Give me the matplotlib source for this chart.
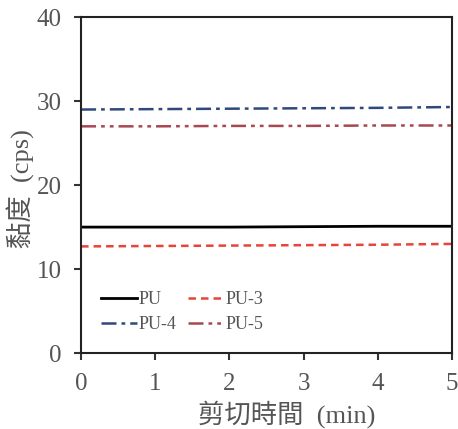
import matplotlib.pyplot as plt

plt.rcParams['font.family'] = ['Liberation Serif', 'Noto Sans CJK TC']

# datos
tiempo = [0, 1, 2, 3, 4, 5]
pu = [15.0, 15.0, 15.0, 15.05, 15.1, 15.1]
pu3 = [12.7, 12.75, 12.8, 12.85, 12.9, 13.0]
pu4 = [29.0, 29.05, 29.1, 29.15, 29.2, 29.3]
pu5 = [27.0, 27.0, 27.05, 27.05, 27.1, 27.1]

fig = plt.figure(figsize=(4.58, 4.29), dpi=100)
ax = fig.add_axes([0.177, 0.177, 0.81, 0.783])

l1, = ax.plot(tiempo, pu, color='black', linewidth=2, label='PU')
l3, = ax.plot(tiempo, pu3, color='#e8443a', linewidth=1.8, linestyle=(0, (3, 2)), label='PU-3')
l4, = ax.plot(tiempo, pu4, color='#2f4a7a', linewidth=1.8, linestyle=(0, (6, 2, 1.5, 2)), label='PU-4')
l5, = ax.plot(tiempo, pu5, color='#a84850', linewidth=1.8, linestyle=(0, (6, 2, 1.5, 2, 1.5, 2)), label='PU-5')

ax.set_xlim(0, 5)
ax.set_ylim(0, 40)
ax.set_xticks([0, 1, 2, 3, 4, 5])
ax.set_yticks([0, 10, 20, 30, 40])
ax.tick_params(direction='out', length=5, width=1.5, labelsize=18, colors='#333333')
ax.tick_params(axis='x', pad=9)
ax.tick_params(axis='y', pad=9)
ax.tick_params(labelcolor='#555555')
for s in ax.spines.values():
    s.set_linewidth(1.5)
    s.set_color('#222222')

ax.set_xlabel('剪切時間  (min)', fontsize=19, color='#555555')
ax.xaxis.set_label_coords(0.553, -0.14)
ax.set_ylabel('黏度  (cps)', fontsize=19, color='#555555')
ax.yaxis.set_label_coords(-0.125, 0.49)

# orden por columnas: PU, PU-4 | PU-3, PU-5
ax.legend([l1, l4, l3, l5], ['PU', 'PU-4', 'PU-3', 'PU-5'],
          loc='lower left', bbox_to_anchor=(0.01, 0.01), ncol=2, frameon=False,
          fontsize=13, handlelength=2.0, handletextpad=0.1, columnspacing=0.6,
          labelspacing=0.45, labelcolor='#555555')

plt.savefig('out.png', dpi=100)
